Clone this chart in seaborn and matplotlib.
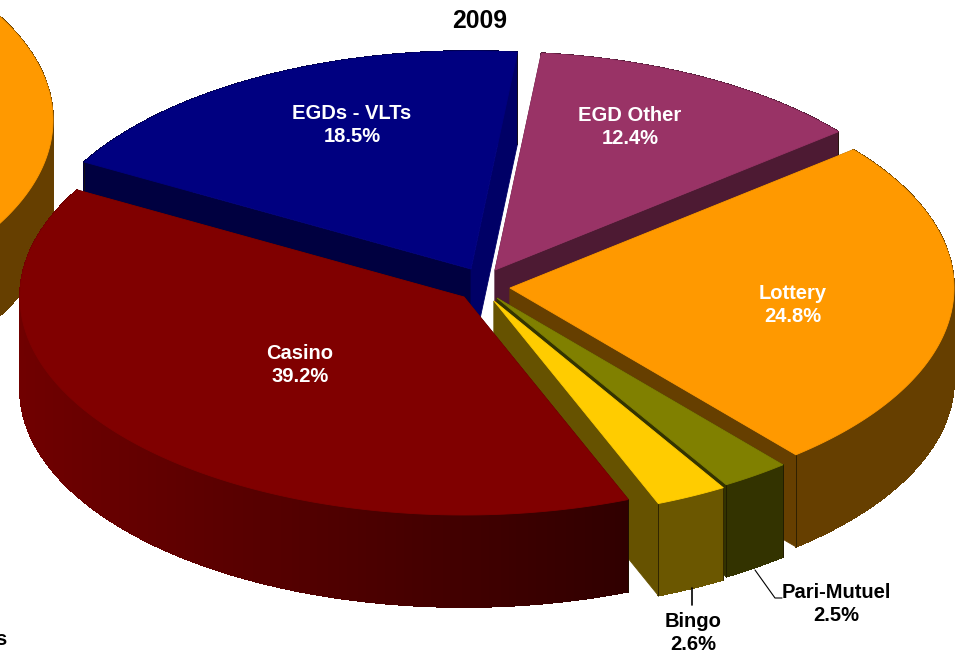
import numpy as np
import matplotlib
matplotlib.use("Agg")
import matplotlib.pyplot as plt
from matplotlib.colors import to_rgb
from matplotlib.patches import Polygon
import seaborn as sns

# ---- data ----
categories = ["EGD Other", "Lottery", "Pari-Mutuel", "Bingo", "Casino", "EGDs - VLTs"]
shares = [12.4, 24.8, 2.5, 2.6, 39.2, 18.5]
title_text = "2009"
previous_lottery_share = 24.8

# ---- style ----
top_colors = sns.color_palette(["#993366", "#FF9900", "#808000", "#FFCC00", "#800000", "#000080"])
side_left = ["#4D1A33", "#663F00", "#333300", "#6B5700", "#700000", "#000040"]
side_right = ["#4D1A33", "#663F00", "#333300", "#6B5700", "#300000", "#000040"]
start_wall = ["#4D1A33", "#663F00", "#333300", "#665200", "#400000", "#000040"]
end_wall = ["#4D1A33", "#663F00", "#333300", "#665200", "#400000", "#000066"]
apexes = {"EGD Other": (495, 270), "Lottery": (510, 288), "Pari-Mutuel": (497, 298),
          "Bingo": (494, 301), "Casino": (464, 297), "EGDs - VLTs": (471, 269)}
draw_order = ["EGDs - VLTs", "EGD Other", "Lottery", "Pari-Mutuel", "Bingo", "Casino"]
RX, RY, DEPTH = 444, 218, 92
START_ANGLE = 6.0

sns.set_theme(style="white")
plt.rcParams["font.family"] = ["Liberation Sans", "DejaVu Sans"]
fig = plt.figure(figsize=(9.58, 6.54), dpi=100)
ax = fig.add_axes([0, 0, 1, 1])
ax.set_xlim(0, 958)
ax.set_ylim(654, 0)
ax.axis("off")


def rim(c, a):
    a = np.radians(a)
    return np.column_stack([c[0] + RX * np.sin(a), c[1] - RY * np.cos(a)])


def poly(pts, color, z, aa=True):
    ax.add_patch(Polygon(pts, closed=True, facecolor=color, edgecolor=color,
                         linewidth=0.6, zorder=z, antialiased=aa))


def slice3d(c, a0, a1, top, sl, sr, w0, w1, z):
    angles = np.linspace(a0, a1, max(int(a1 - a0) * 2, 4))
    r = rim(c, angles)
    down = np.array([0, DEPTH])
    cxy = np.array(c, dtype=float)
    # cut face on the starting side sits behind the outer wall
    poly([cxy, r[0], r[0] + down, cxy + down], to_rgb(w0), z)
    # outer wall: overlapping, non-antialiased strips leave no seams
    l, rr = np.array(to_rgb(sl)), np.array(to_rgb(sr))
    xmin, xmax = r[:, 0].min(), r[:, 0].max()
    for i in range(len(r) - 1):
        t = (r[i, 0] - xmin) / max(xmax - xmin, 1)
        poly([r[i], r[i + 1], r[i + 1] + down, r[i] + down], tuple(l + (rr - l) * t), z + 0.1, aa=False)
    # cut face on the closing side sits in front of it
    poly([cxy, r[-1], r[-1] + down, cxy + down], to_rgb(w1), z + 0.2)
    # corner lines
    for p in (r[0], r[-1]):
        ax.plot([p[0], p[0]], [p[1], p[1] + DEPTH], color="#1a1400", lw=0.5, zorder=z + 0.3)
    # top face
    poly(np.vstack([cxy, r]), top, z + 0.4)


# neighbouring pie cut by the left edge
prev_span = previous_lottery_share * 3.6
slice3d((-391, 120), 90 - prev_span / 2 - 20, 90 + prev_span / 2 + 20, "#FF9900", "#663F00", "#663F00",
        "#663F00", "#663F00", 1)

# slice angles follow the shares
edges = START_ANGLE + np.concatenate([[0], np.cumsum(shares)]) * 3.6
for name in draw_order:
    i = categories.index(name)
    slice3d(apexes[name], edges[i], edges[i + 1], top_colors[i], side_left[i], side_right[i],
            start_wall[i], end_wall[i], 5 + draw_order.index(name))

# labels
FS = 14.5
inside_pos = {"EGDs - VLTs": (352, 125), "EGD Other": (630, 127), "Lottery": (793, 305), "Casino": (300, 365)}
outside_pos = {"Pari-Mutuel": (836, 604), "Bingo": (693, 633)}
for name, share in zip(categories, shares):
    label = f"{name}\n{share}%"
    if name in inside_pos:
        x, y = inside_pos[name]
        color = "white"
    else:
        x, y = outside_pos[name]
        color = "black"
    ax.text(x, y, label, color=color, fontsize=FS, fontweight="bold", ha="center", va="center",
            linespacing=1.25, zorder=30)

ax.text(480, 21, title_text, color="black", fontsize=17.8, fontweight="bold", ha="center", va="center", zorder=30)
ax.text(-5, 645, "s", color="black", fontsize=FS, fontweight="bold", ha="left", va="baseline", zorder=30)

# leader lines
ax.plot([692, 692], [588, 605], color="black", lw=1.2, zorder=25)
ax.plot([755, 775, 782], [570, 598, 598], color="black", lw=0.8, zorder=25)

fig.savefig("out.png", dpi=100)
